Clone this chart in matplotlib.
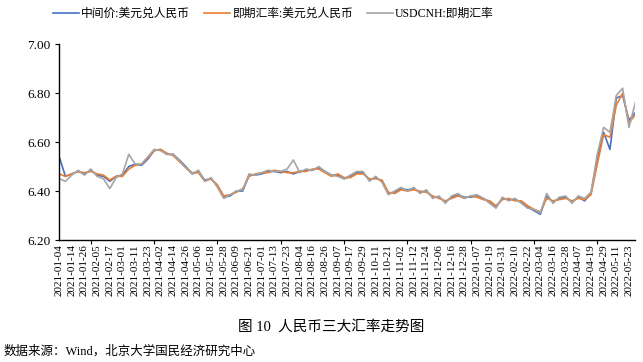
import numpy as np
import matplotlib
matplotlib.use("Agg")
import matplotlib.pyplot as plt
from matplotlib.ticker import FixedLocator

plt.rcParams['font.family'] = ['Liberation Serif', 'Noto Sans CJK SC', 'DejaVu Sans']

# tick labels every 8 trading days (2 samples)
tick_labels = [
    "2021-01-04", "2021-01-14", "2021-01-26", "2021-02-05", "2021-02-17", "2021-03-01",
    "2021-03-11", "2021-03-23", "2021-04-02", "2021-04-14", "2021-04-26", "2021-05-06",
    "2021-05-18", "2021-05-28", "2021-06-09", "2021-06-21", "2021-07-01", "2021-07-13",
    "2021-07-23", "2021-08-04", "2021-08-16", "2021-08-26", "2021-09-07", "2021-09-17",
    "2021-09-29", "2021-10-11", "2021-10-21", "2021-11-02", "2021-11-12", "2021-11-24",
    "2021-12-06", "2021-12-16", "2021-12-28", "2022-01-07", "2022-01-19", "2022-01-31",
    "2022-02-10", "2022-02-22", "2022-03-04", "2022-03-16", "2022-03-28", "2022-04-07",
    "2022-04-19", "2022-04-29", "2022-05-11", "2022-05-23",
]

# sampled every 4 trading days
mid_rate = [
    6.54, 6.46, 6.47, 6.48, 6.47, 6.485, 6.465, 6.46, 6.44, 6.46,
    6.465, 6.50, 6.51, 6.505, 6.53, 6.565, 6.57, 6.55, 6.55, 6.527,
    6.50, 6.47, 6.48, 6.445, 6.45, 6.42, 6.375, 6.38, 6.40, 6.40,
    6.465, 6.465, 6.47, 6.48, 6.48, 6.475, 6.48, 6.47, 6.48, 6.485,
    6.485, 6.495, 6.48, 6.465, 6.465, 6.45, 6.46, 6.475, 6.475, 6.445,
    6.455, 6.44, 6.39, 6.395, 6.41, 6.405, 6.41, 6.395, 6.40, 6.375,
    6.375, 6.355, 6.375, 6.385, 6.375, 6.375, 6.38, 6.37, 6.355, 6.335,
    6.37, 6.365, 6.365, 6.355, 6.335, 6.32, 6.305, 6.38, 6.355, 6.37,
    6.375, 6.355, 6.375, 6.36, 6.39, 6.53, 6.64, 6.57, 6.78, 6.79,
    6.69, 6.72,
]
spot_rate = [
    6.47, 6.46, 6.47, 6.48, 6.475, 6.48, 6.47, 6.465, 6.445, 6.46,
    6.46, 6.49, 6.505, 6.51, 6.535, 6.565, 6.57, 6.555, 6.545, 6.52,
    6.495, 6.475, 6.475, 6.44, 6.45, 6.425, 6.38, 6.385, 6.395, 6.41,
    6.46, 6.47, 6.475, 6.475, 6.485, 6.48, 6.475, 6.475, 6.48, 6.48,
    6.49, 6.49, 6.475, 6.46, 6.47, 6.455, 6.455, 6.47, 6.47, 6.45,
    6.45, 6.445, 6.395, 6.39, 6.405, 6.40, 6.405, 6.40, 6.395, 6.38,
    6.37, 6.36, 6.37, 6.38, 6.37, 6.38, 6.375, 6.365, 6.36, 6.34,
    6.365, 6.37, 6.36, 6.36, 6.34, 6.325, 6.315, 6.37, 6.36, 6.365,
    6.37, 6.36, 6.37, 6.365, 6.385, 6.51, 6.63, 6.62, 6.75, 6.80,
    6.68, 6.71,
]
cnh_rate = [
    6.45, 6.44, 6.465, 6.485, 6.465, 6.49, 6.46, 6.45, 6.41, 6.455,
    6.47, 6.55, 6.51, 6.51, 6.54, 6.57, 6.565, 6.55, 6.55, 6.525,
    6.495, 6.47, 6.485, 6.44, 6.455, 6.415, 6.37, 6.385, 6.40, 6.405,
    6.47, 6.465, 6.475, 6.485, 6.48, 6.48, 6.49, 6.527, 6.475, 6.49,
    6.485, 6.50, 6.48, 6.465, 6.46, 6.45, 6.465, 6.48, 6.48, 6.44,
    6.46, 6.435, 6.385, 6.40, 6.415, 6.40, 6.415, 6.39, 6.405, 6.37,
    6.38, 6.35, 6.38, 6.39, 6.37, 6.38, 6.385, 6.37, 6.35, 6.33,
    6.375, 6.36, 6.37, 6.35, 6.33, 6.325, 6.31, 6.39, 6.35, 6.375,
    6.38, 6.35, 6.38, 6.37, 6.395, 6.55, 6.66, 6.64, 6.79, 6.82,
    6.66, 6.76,
]

x = np.arange(len(mid_rate))

fig = plt.figure(figsize=(6.43, 3.62), dpi=100)
ax = fig.add_axes([0.092, 0.337, 0.896, 0.541])

l1, = ax.plot(x, mid_rate, color="#4472C4", lw=1.2, label="中间价:美元兑人民币")
l2, = ax.plot(x, spot_rate, color="#ED7D31", lw=1.2, label="即期汇率:美元兑人民币")
l3, = ax.plot(x, cnh_rate, color="#A5A5A5", lw=1.2, label="USDCNH:即期汇率")

ax.set_ylim(6.2, 7.0)
ax.set_yticks([6.2, 6.4, 6.6, 6.8, 7.0])
ax.set_yticklabels(["6.20", "6.40", "6.60", "6.80", "7.00"], fontsize=9.5)
ax.set_xlim(0, len(mid_rate) - 1)

ax.set_xticks(np.arange(len(tick_labels)) * 2)
ax.set_xticklabels(tick_labels, rotation=90, fontsize=8)
ax.tick_params(axis="x", length=0, pad=3)
ax.xaxis.set_minor_locator(FixedLocator(np.arange(5, len(mid_rate), 5)))
ax.tick_params(axis="x", which="minor", length=3, direction="out", width=0.8)
ax.tick_params(axis="y", length=3, direction="out", width=0.8, pad=3)

for s in ["top", "right"]:
    ax.spines[s].set_visible(False)
for s in ["left", "bottom"]:
    ax.spines[s].set_linewidth(1.0)
    ax.spines[s].set_color("black")

fig.legend(handles=[l1, l2, l3], loc="center", bbox_to_anchor=(0.425, 0.962), ncol=3,
           frameon=False, fontsize=8.5, handlelength=2.2, columnspacing=1.2, handletextpad=0.15)

fig.text(0.515, 0.098, "图 10  人民币三大汇率走势图", ha="center", va="center", fontsize=10.5)
fig.text(0.005, 0.028, "数据来源：Wind，北京大学国民经济研究中心", ha="left", va="center", fontsize=9)

fig.savefig("out.png", dpi=100)
